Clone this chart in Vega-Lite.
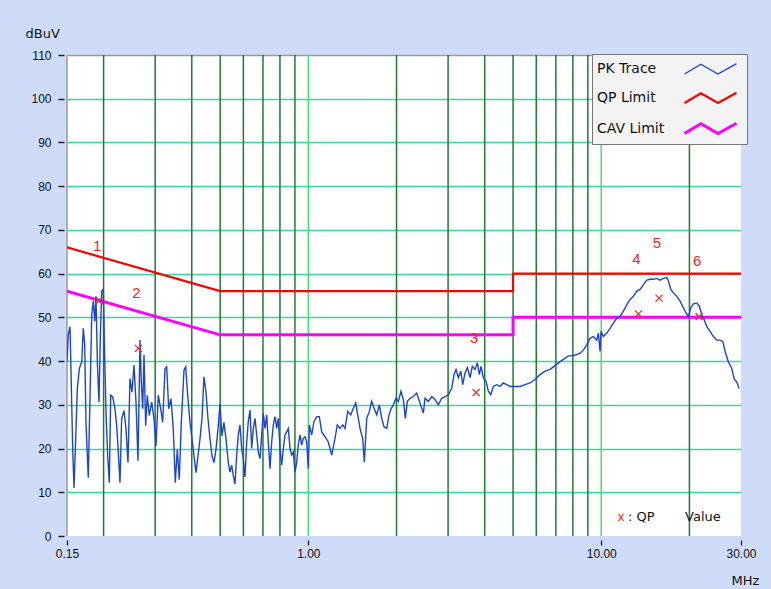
{
  "$schema": "https://vega.github.io/schema/vega-lite/v6.json",
  "width": 674,
  "height": 481,
  "autosize": {"type": "none"},
  "padding": {"left": 67, "top": 55, "right": 30, "bottom": 53},
  "background": "#cedcfa",
  "view": {"fill": "white", "stroke": null},
  "config": {"font": "Liberation Sans"},
  "datasets": {
    "grid": [
      {"f": 0.2, "kind": "minor"}, {"f": 0.3, "kind": "minor"}, {"f": 0.4, "kind": "minor"}, {"f": 0.5, "kind": "minor"},
      {"f": 0.6, "kind": "minor"}, {"f": 0.7, "kind": "minor"}, {"f": 0.8, "kind": "minor"}, {"f": 0.9, "kind": "minor"},
      {"f": 2, "kind": "minor"}, {"f": 3, "kind": "minor"}, {"f": 4, "kind": "minor"}, {"f": 5, "kind": "minor"},
      {"f": 6, "kind": "minor"}, {"f": 7, "kind": "minor"}, {"f": 8, "kind": "minor"}, {"f": 9, "kind": "minor"},
      {"f": 20, "kind": "minor"},
      {"f": 1, "kind": "decade"}, {"f": 10, "kind": "decade"},
      {"f": 0.15, "kind": "edge"}
    ],
    "limits": [
      {"series": "QP Limit", "f": 0.15, "level": 66},
      {"series": "QP Limit", "f": 0.5, "level": 56},
      {"series": "QP Limit", "f": 5, "level": 56},
      {"series": "QP Limit", "f": 5, "level": 60},
      {"series": "QP Limit", "f": 30, "level": 60},
      {"series": "CAV Limit", "f": 0.15, "level": 56},
      {"series": "CAV Limit", "f": 0.5, "level": 46},
      {"series": "CAV Limit", "f": 5, "level": 46},
      {"series": "CAV Limit", "f": 5, "level": 50},
      {"series": "CAV Limit", "f": 30, "level": 50}
    ],
    "qp": [
      {"f": 0.193, "level": 53.8, "label": "1"},
      {"f": 0.263, "level": 42.9, "label": "2"},
      {"f": 3.74, "level": 32.8, "label": "3"},
      {"f": 13.39, "level": 50.8, "label": "4"},
      {"f": 15.75, "level": 54.4, "label": "5"},
      {"f": 21.58, "level": 50.2, "label": "6"}
    ],
    "notes": [
      {"f": 11.69, "level": 4.3, "text": "x", "kind": "mark"},
      {"f": 12.35, "level": 4.3, "text": ": QP", "kind": "text"},
      {"f": 19.33, "level": 4.3, "text": "Value", "kind": "text"}
    ],
    "trace": [
      {"f":0.15,"level":39.8},{"f":0.1515,"level":46},{"f":0.1536,"level":47.9},{"f":0.1548,"level":37.5},{"f":0.1569,"level":19.8},
      {"f":0.1585,"level":11},{"f":0.1606,"level":22.2},{"f":0.1627,"level":33.7},{"f":0.1653,"level":38.3},{"f":0.1684,"level":39.8},
      {"f":0.1705,"level":47.5},{"f":0.1724,"level":43.7},{"f":0.1741,"level":26},{"f":0.1773,"level":13.3},{"f":0.1798,"level":32.2},
      {"f":0.1822,"level":50.6},{"f":0.1845,"level":53.7},{"f":0.1865,"level":49.1},{"f":0.1884,"level":54.8},{"f":0.1904,"level":39.8},
      {"f":0.1929,"level":30.6},{"f":0.1949,"level":45.2},{"f":0.197,"level":56},{"f":0.1995,"level":56.4},{"f":0.2017,"level":41.4},
      {"f":0.2038,"level":28.3},{"f":0.2065,"level":18.3},{"f":0.2092,"level":12.2},{"f":0.2115,"level":32.2},{"f":0.2149,"level":31.8},
      {"f":0.2187,"level":29.1},{"f":0.2217,"level":25.2},{"f":0.2245,"level":19.1},{"f":0.2275,"level":12.2},{"f":0.2305,"level":26.8},
      {"f":0.2348,"level":28.7},{"f":0.2385,"level":24.5},{"f":0.2423,"level":16.8},{"f":0.2461,"level":36},{"f":0.25,"level":32.9},
      {"f":0.254,"level":39.1},{"f":0.258,"level":30.6},{"f":0.2621,"level":17.2},{"f":0.2663,"level":44.8},{"f":0.269,"level":35.2},
      {"f":0.272,"level":29.1},{"f":0.2748,"level":41.4},{"f":0.2784,"level":25.2},{"f":0.282,"level":32.2},{"f":0.2864,"level":27.5},
      {"f":0.2919,"level":30.6},{"f":0.2972,"level":26.8},{"f":0.3019,"level":20.6},{"f":0.3074,"level":32.2},{"f":0.3133,"level":29.1},
      {"f":0.3182,"level":26},{"f":0.3241,"level":38.3},{"f":0.3284,"level":38.7},{"f":0.3336,"level":29.1},{"f":0.3397,"level":31.4},
      {"f":0.3459,"level":24.5},{"f":0.3514,"level":12.2},{"f":0.357,"level":19.8},{"f":0.3626,"level":12.9},{"f":0.3684,"level":26},
      {"f":0.3763,"level":37.9},{"f":0.3813,"level":38.7},{"f":0.3873,"level":32.2},{"f":0.3945,"level":26},{"f":0.4007,"level":22.2},
      {"f":0.407,"level":18.3},{"f":0.4134,"level":14.5},{"f":0.42,"level":18.3},{"f":0.4267,"level":22.2},{"f":0.4334,"level":26.8},
      {"f":0.4402,"level":36.4},{"f":0.4473,"level":32.9},{"f":0.4544,"level":26.8},{"f":0.4616,"level":22.2},{"f":0.4689,"level":18.3},
      {"f":0.4763,"level":16.8},{"f":0.4839,"level":19.8},{"f":0.4916,"level":24.5},{"f":0.4993,"level":30.2},{"f":0.5072,"level":22.9},
      {"f":0.5152,"level":26},{"f":0.5235,"level":22.2},{"f":0.533,"level":16.8},{"f":0.5402,"level":14.6},{"f":0.5474,"level":16.2},
      {"f":0.5544,"level":13.8},{"f":0.5618,"level":11.9},{"f":0.5693,"level":18.5},{"f":0.5766,"level":23.1},{"f":0.5844,"level":25.4},
      {"f":0.5922,"level":20},{"f":0.5997,"level":17.7},{"f":0.6078,"level":13.5},{"f":0.6159,"level":21.5},{"f":0.6238,"level":26.2},
      {"f":0.6322,"level":28.8},{"f":0.6407,"level":20},{"f":0.6488,"level":24.6},{"f":0.6575,"level":26.9},{"f":0.6663,"level":23.1},
      {"f":0.6748,"level":19.2},{"f":0.6839,"level":17.7},{"f":0.693,"level":23.1},{"f":0.7019,"level":28.1},{"f":0.7114,"level":24.6},
      {"f":0.7209,"level":27.7},{"f":0.73,"level":21.5},{"f":0.7398,"level":15.4},{"f":0.7497,"level":21.5},{"f":0.7592,"level":25.4},
      {"f":0.7695,"level":27.3},{"f":0.7798,"level":24.6},{"f":0.7898,"level":26.9},{"f":0.8004,"level":20},{"f":0.811,"level":16.2},
      {"f":0.8214,"level":20},{"f":0.8324,"level":23.1},{"f":0.8436,"level":23.8},{"f":0.8543,"level":24.6},{"f":0.8658,"level":20},
      {"f":0.8774,"level":18.5},{"f":0.8886,"level":19.2},{"f":0.9006,"level":14.6},{"f":0.9126,"level":16.9},{"f":0.9242,"level":20.8},
      {"f":0.9367,"level":23.1},{"f":0.9492,"level":20.8},{"f":0.9613,"level":22.3},{"f":0.9742,"level":22.7},{"f":0.9872,"level":21.5},
      {"f":0.9998,"level":15.4},{"f":1.0077,"level":25.4},{"f":1.0268,"level":23.1},{"f":1.0456,"level":26.2},{"f":1.068,"level":27.3},
      {"f":1.0902,"level":27.3},{"f":1.1108,"level":23.8},{"f":1.1402,"level":22.7},{"f":1.1701,"level":21.5},{"f":1.2017,"level":18.5},
      {"f":1.2334,"level":22.3},{"f":1.2559,"level":25.4},{"f":1.2828,"level":24.6},{"f":1.3103,"level":25.4},{"f":1.3343,"level":24.6},
      {"f":1.3629,"level":28.5},{"f":1.3953,"level":27.7},{"f":1.4242,"level":29.2},{"f":1.4512,"level":30.4},{"f":1.4743,"level":27.7},
      {"f":1.5013,"level":24.6},{"f":1.5334,"level":22.3},{"f":1.5529,"level":16.9},{"f":1.5824,"level":26.9},{"f":1.6152,"level":28.5},
      {"f":1.6458,"level":30.8},{"f":1.6759,"level":29.2},{"f":1.7118,"level":27.7},{"f":1.7473,"level":30},{"f":1.7804,"level":26.9},
      {"f":1.8129,"level":25},{"f":1.8519,"level":24.6},{"f":1.8856,"level":27.7},{"f":1.9201,"level":29.2},{"f":1.9506,"level":30},
      {"f":1.9924,"level":31.5},{"f":2.0288,"level":30.8},{"f":2.0722,"level":33.1},{"f":2.1101,"level":31.2},{"f":2.1435,"level":26.9},
      {"f":2.1776,"level":30.8},{"f":2.2244,"level":31.5},{"f":2.2828,"level":31.9},{"f":2.3445,"level":32.7},{"f":2.3931,"level":30.8},
      {"f":2.4695,"level":28.1},{"f":2.5028,"level":31.5},{"f":2.5685,"level":30.8},{"f":2.638,"level":31.9},{"f":2.7075,"level":31.2},
      {"f":2.7786,"level":30},{"f":2.8538,"level":31.5},{"f":2.929,"level":31.9},{"f":3.006,"level":32.3},{"f":3.0872,"level":33.8},
      {"f":3.1435,"level":36.9},{"f":3.1934,"level":38.1},{"f":3.2518,"level":36.2},{"f":3.3136,"level":37.7},{"f":3.3661,"level":34.6},
      {"f":3.4278,"level":37.3},{"f":3.4903,"level":38.5},{"f":3.5652,"level":36.2},{"f":3.6302,"level":38.8},{"f":3.7081,"level":38.1},
      {"f":3.7757,"level":39.6},{"f":3.8356,"level":36.9},{"f":3.887,"level":38.8},{"f":3.9581,"level":36.2},{"f":4.0429,"level":35.4},
      {"f":4.1168,"level":33.1},{"f":4.195,"level":32.3},{"f":4.2819,"level":34.2},{"f":4.3975,"level":34.6},{"f":4.5126,"level":34.2},
      {"f":4.6321,"level":35},{"f":4.7573,"level":34.6},{"f":4.8828,"level":34.2},{"f":5.0786,"level":34.2},{"f":5.2822,"level":34.2},
      {"f":5.494,"level":34.6},{"f":5.7143,"level":35},{"f":5.9434,"level":35.8},{"f":6.1817,"level":36.9},{"f":6.4295,"level":37.7},
      {"f":6.6873,"level":38.1},{"f":6.9003,"level":38.8},{"f":7.1382,"level":39.6},{"f":7.4244,"level":40.4},{"f":7.722,"level":41.2},
      {"f":7.9689,"level":41.2},{"f":8.2487,"level":41.5},{"f":8.4663,"level":41.8},{"f":8.6886,"level":42.5},{"f":8.9235,"level":43.7},
      {"f":9.1588,"level":45.2},{"f":9.3993,"level":45.6},{"f":9.6534,"level":44.8},{"f":9.7763,"level":46.4},{"f":9.9081,"level":42.2},
      {"f":9.9857,"level":46.8},{"f":10.168,"level":45.6},{"f":10.443,"level":46.4},{"f":10.719,"level":47.5},{"f":11.0,"level":48.7},
      {"f":11.298,"level":49.8},{"f":11.596,"level":50.2},{"f":11.9,"level":51.4},{"f":12.222,"level":52.9},{"f":12.544,"level":54.1},
      {"f":12.873,"level":54.8},{"f":13.221,"level":56},{"f":13.571,"level":56.4},{"f":13.927,"level":57.5},{"f":14.304,"level":58.5},
      {"f":14.68,"level":58.7},{"f":15.066,"level":58.7},{"f":15.473,"level":58.9},{"f":15.881,"level":58.5},{"f":16.298,"level":58.9},
      {"f":16.739,"level":59.1},{"f":16.952,"level":58.3},{"f":17.274,"level":56.4},{"f":17.632,"level":55.6},{"f":18.109,"level":54.8},
      {"f":18.586,"level":53.7},{"f":19.073,"level":52.2},{"f":19.482,"level":51},{"f":19.838,"level":50.2},{"f":20.216,"level":52.2},
      {"f":20.634,"level":53.1},{"f":21.192,"level":53.3},{"f":21.632,"level":52.5},{"f":22.041,"level":50.6},{"f":22.443,"level":49.5},
      {"f":22.925,"level":47.9},{"f":23.53,"level":46.8},{"f":24.148,"level":45.6},{"f":24.8,"level":44.8},{"f":25.455,"level":44.8},
      {"f":25.999,"level":44.5},{"f":26.476,"level":42.2},{"f":27.171,"level":39.8},{"f":27.905,"level":38.3},{"f":28.414,"level":36},
      {"f":29.024,"level":35.2},{"f":29.554,"level":33.7}
    ]
  },
  "encoding": {
    "x": {
      "field": "f",
      "type": "quantitative",
      "scale": {"type": "log", "domain": [0.15, 30], "nice": false},
      "axis": {
        "values": [0.15, 1, 10, 30],
        "format": ".2f",
        "title": "MHz",
        "titleX": 678,
        "titleY": 44,
        "titleAlign": "center",
        "titleBaseline": "alphabetic",
        "titleFont": "DejaVu Sans",
        "titleFontSize": 13,
        "titleFontWeight": "normal",
        "titleColor": "#111",
        "domain": false,
        "grid": false,
        "offset": 4,
        "tickSize": 5,
        "tickColor": "#222",
        "tickWidth": 1.3,
        "labelPadding": 3,
        "labelFont": "Liberation Sans",
        "labelFontSize": 12,
        "labelColor": "#111",
        "labelFlush": false,
        "labelOverlap": false
      }
    }
  },
  "layer": [
    {
      "data": {"name": "grid"},
      "transform": [{"filter": "datum.kind == 'minor'"}],
      "mark": {"type": "rule", "color": "#1f7a34", "strokeWidth": 1.5},
      "encoding": {}
    },
    {
      "data": {"name": "grid"},
      "transform": [{"filter": "datum.kind == 'decade'"}],
      "mark": {"type": "rule", "color": "#45dd70", "strokeWidth": 1.5},
      "encoding": {}
    },
    {
      "data": {"name": "grid"},
      "transform": [{"filter": "datum.kind == 'edge'"}],
      "mark": {"type": "rule", "color": "#9a9a9a", "strokeWidth": 1.5},
      "encoding": {}
    },
    {
      "data": {"name": "limits"},
      "mark": {"type": "line", "clip": true},
      "encoding": {
        "y": {
          "field": "level",
          "type": "quantitative",
          "scale": {"domain": [0, 110], "nice": false},
          "axis": {
            "values": [0, 10, 20, 30, 40, 50, 60, 70, 80, 90, 100, 110],
            "title": "dBuV",
            "titleAngle": 0,
            "titleAlign": "left",
            "titleBaseline": "alphabetic",
            "titleX": -39,
            "titleY": -18,
            "titleFont": "DejaVu Sans",
            "titleFontSize": 13,
            "titleFontWeight": "normal",
            "titleColor": "#111",
            "domain": false,
            "offset": 3,
            "tickSize": 6,
            "tickColor": "#222",
            "tickWidth": 1.5,
            "labelPadding": 7,
            "labelFont": "Liberation Sans",
            "labelFontSize": 12,
            "labelColor": "#111",
            "grid": true,
            "gridWidth": 1.6,
            "gridColor": {"condition": {"test": "datum.value == 110", "value": "#9a9a9a"}, "value": "#38d9a0"},
            "gridOpacity": {"condition": {"test": "datum.value == 0", "value": 0}, "value": 1}
          }
        },
        "color": {
          "field": "series",
          "type": "nominal",
          "scale": {"domain": ["PK Trace", "QP Limit", "CAV Limit"], "range": ["#1c44d4", "#ff0000", "#ff00ff"]},
          "legend": {
            "title": null,
            "orient": "none",
            "legendX": 525,
            "legendY": -1,
            "symbolType": "M-2.6,0.5L-0.96,-0.48L0.75,0.5L2.6,-0.53",
            "symbolSize": 400,
            "symbolOffset": 103,
            "labelOffset": -125,
            "padding": 4,
            "rowPadding": 9.5,
            "fillColor": "#f3f3f3",
            "strokeColor": "#777777",
            "labelFont": "DejaVu Sans",
            "labelFontSize": 14,
            "labelColor": "#111",
            "symbolFillColor": "transparent"
          }
        },
        "strokeWidth": {
          "field": "series",
          "type": "nominal",
          "scale": {"domain": ["PK Trace", "QP Limit", "CAV Limit"], "range": [1.4, 3, 3]},
          "legend": {
            "title": null,
            "orient": "none",
            "legendX": 525,
            "legendY": -1,
            "symbolType": "M-2.6,0.5L-0.96,-0.48L0.75,0.5L2.6,-0.53",
            "symbolSize": 400,
            "symbolOffset": 103,
            "labelOffset": -125,
            "padding": 4,
            "rowPadding": 9.5,
            "fillColor": "#f3f3f3",
            "strokeColor": "#777777",
            "labelFont": "DejaVu Sans",
            "labelFontSize": 14,
            "labelColor": "#111",
            "symbolFillColor": "transparent"
          }
        },
        "order": {"value": null}
      }
    },
    {
      "data": {"name": "trace"},
      "mark": {"type": "line", "clip": true},
      "encoding": {
        "y": {"field": "level", "type": "quantitative"},
        "color": {"datum": "PK Trace", "type": "nominal"},
        "strokeWidth": {"datum": "PK Trace", "type": "nominal"}
      }
    },
    {
      "data": {"name": "qp"},
      "mark": {"type": "point", "shape": "M-1,-1L1,1M1,-1L-1,1", "size": 50, "filled": false, "color": "#ff2020", "strokeWidth": 1.2, "opacity": 1},
      "encoding": {"y": {"field": "level", "type": "quantitative"}}
    },
    {
      "data": {"name": "qp"},
      "mark": {"type": "text", "dy": -55, "dx": -2, "color": "#ff2020", "font": "Liberation Sans", "fontSize": 15, "baseline": "middle"},
      "encoding": {"y": {"field": "level", "type": "quantitative"}, "text": {"field": "label"}}
    },
    {
      "data": {"name": "notes"},
      "transform": [{"filter": "datum.kind == 'mark'"}],
      "mark": {"type": "text", "color": "#ff2020", "font": "DejaVu Sans", "fontSize": 12, "align": "center", "baseline": "middle"},
      "encoding": {"y": {"field": "level", "type": "quantitative"}, "text": {"field": "text"}}
    },
    {
      "data": {"name": "notes"},
      "transform": [{"filter": "datum.kind == 'text'"}],
      "mark": {"type": "text", "color": "#111", "font": "DejaVu Sans", "fontSize": 13, "align": "left", "baseline": "middle"},
      "encoding": {"y": {"field": "level", "type": "quantitative"}, "text": {"field": "text"}}
    }
  ]
}
